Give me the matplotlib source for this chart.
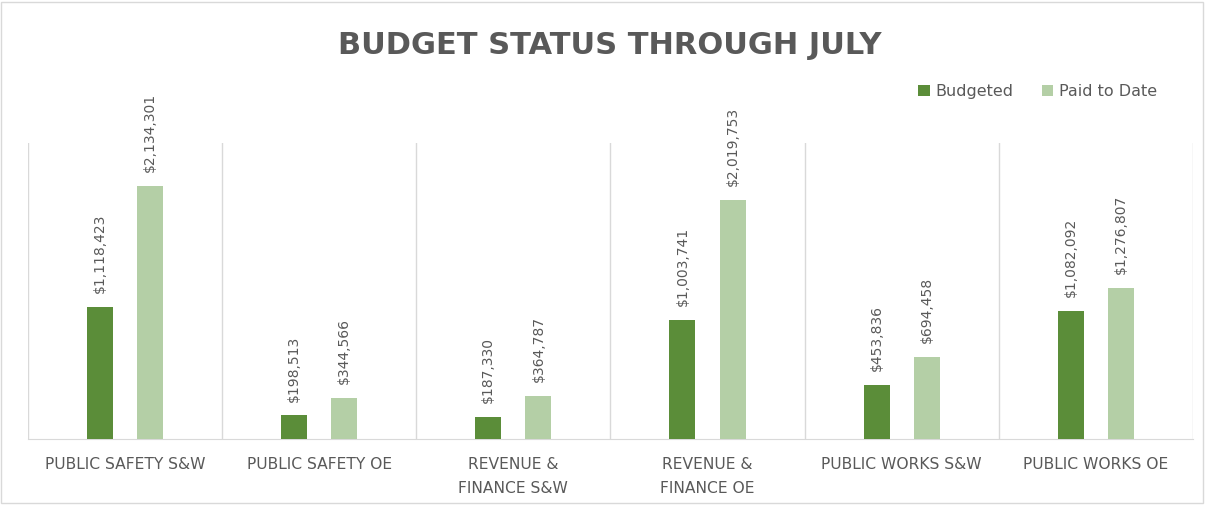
import numpy as np
import matplotlib.pyplot as plt
from matplotlib.patches import Rectangle

categories = ['PUBLIC SAFETY S&W', 'PUBLIC SAFETY OE', 'REVENUE &\nFINANCE S&W',
              'REVENUE &\nFINANCE OE', 'PUBLIC WORKS S&W', 'PUBLIC WORKS OE']
budgeted = [1118423, 198513, 187330, 1003741, 453836, 1082092]
paid_to_date = [2134301, 344566, 364787, 2019753, 694458, 1276807]

dark_green = '#5B8D39'
light_green = '#B4CFA6'
text_grey = '#595959'
line_grey = '#D9D9D9'

plt.rcParams['font.family'] = ['DejaVu Sans']

fig = plt.figure(figsize=(12.05, 5.05), dpi=100)
ax = fig.add_axes([0.0232, 0.1307, 0.9668, 0.5861])

x = np.arange(len(categories))
w = 0.134
off = 0.129
b1 = ax.bar(x - off, budgeted, w, color=dark_green, label='Budgeted', zorder=3)
b2 = ax.bar(x + off, paid_to_date, w, color=light_green, label='Paid to Date', zorder=3)

# value labels above each bar, rotated
for bars in (b1, b2):
    for r in bars:
        v = r.get_height()
        ax.annotate('${:,.0f}'.format(v), (r.get_x() + r.get_width() / 2, v),
                    xytext=(0, 10), textcoords='offset points', rotation=90,
                    ha='center', va='bottom', fontsize=10, color=text_grey)

ax.set_xlim(-0.5, len(categories) - 0.5)
ax.set_ylim(0, 2500000)
ax.set_yticks([])
ax.set_xticks(x)
ax.set_xticklabels(categories, fontsize=11.2, color=text_grey, linespacing=1.75)
ax.tick_params(axis='x', length=0, pad=13)
ax.set_xticks(np.arange(len(categories) + 1) - 0.5, minor=True)
ax.tick_params(axis='x', which='minor', length=0)
ax.grid(axis='x', which='minor', color=line_grey, linewidth=1, zorder=0)
for s in ['top', 'right', 'left']:
    ax.spines[s].set_visible(False)
ax.spines['bottom'].set_color(line_grey)

fig.text(0.506, 0.91, 'BUDGET STATUS THROUGH JULY', ha='center', va='center',
         fontsize=22, fontweight='bold', color=text_grey)

leg = fig.legend(handles=[b1, b2], loc='center right', bbox_to_anchor=(0.972, 0.818),
                 ncol=2, frameon=False, fontsize=11.5, handlelength=0.7, handleheight=0.7,
                 columnspacing=1.8, handletextpad=0.35)
for t in leg.get_texts():
    t.set_color(text_grey)

fig.patches.append(Rectangle((0.001, 0.003), 0.997, 0.994, transform=fig.transFigure,
                             fill=False, edgecolor=line_grey, linewidth=1))

fig.savefig('out.png', dpi=100)
